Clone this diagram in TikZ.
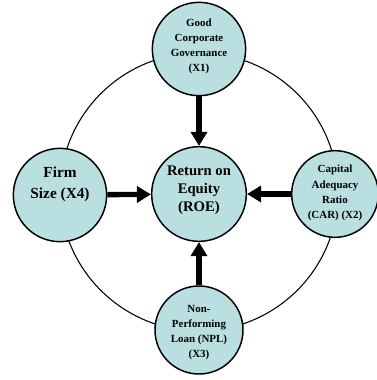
\documentclass[tikz,border=0pt]{standalone}
\usepackage{fontspec}
\setmainfont{Liberation Serif}
\usetikzlibrary{arrows.meta}
\definecolor{varfill}{HTML}{B9DFE1}
\begin{document}
\begin{tikzpicture}[x=0.75pt, y=-0.75pt, font=\bfseries,
  var/.style={circle, draw=black, line width=1.1pt, fill=varfill, align=center, inner sep=0pt},
  smalltext/.style={font=\bfseries\fontsize{8.2}{11.3}\selectfont},
  bigtext/.style={font=\bfseries\fontsize{11}{13.6}\selectfont},
  link/.style={line width=4pt, -{Triangle[length=10.5pt, width=12pt]}}]

% frame of the picture (377 x 380 px)
\useasboundingbox (0,0) rectangle (377,380);

% ── OUTER RING ────────────────────────────────────────────────────────────
\draw[line width=0.8pt] (199,192) circle (139);

% ── VARIABLES ────────────────────────────────────────────────────────────
\node[var, minimum size=71pt, bigtext] (roe) at (199,194)
  {Return on\\Equity\\(ROE)\\[-6pt]};
\node[var, minimum size=70pt, smalltext] (x1) at (199,49)
  {Good\\Corporate\\Governance\\(X1)\\[-5pt]};
\node[var, minimum size=65pt, smalltext] (x2) at (335,194)
  {Capital\\Adequacy\\Ratio\\(CAR) (X2)\\[-8pt]};
\node[var, minimum size=66pt, smalltext] (x3) at (199,330)
  {Non-\\Performing\\Loan (NPL)\\(X3)\\[-14pt]};
\node[var, minimum size=70pt, bigtext, font=\bfseries\fontsize{11.5}{16}\selectfont] (x4) at (60,195)
  {Firm\\Size (X4)\\[2pt]};

% ── EFFECTS ON ROE ───────────────────────────────────────────────────────
\draw[link] (x1) -- (roe);
\draw[link] (x2) -- (roe);
\draw[link] (x3) -- (roe);
\draw[link] (x4) -- (roe);

\end{tikzpicture}
\end{document}
